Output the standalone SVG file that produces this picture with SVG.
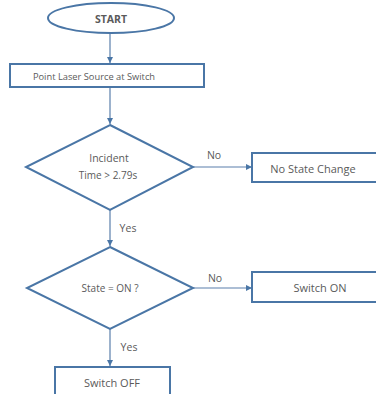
<svg xmlns="http://www.w3.org/2000/svg" width="376" height="394" viewBox="0 0 376 394">
<style>
.shape{fill:#ffffff;stroke:#4a76a6;stroke-width:2}
.conn{stroke:#5a7fab;stroke-width:1.2;fill:none}
text{font-family:"Open Sans","Liberation Sans",sans-serif;font-size:10.5px;fill:#5a5a5a;text-anchor:middle;dominant-baseline:central}
.b{font-weight:bold;font-size:10.5px}
.s{font-size:9.3px}
.l{font-size:11px}
</style>
<defs>
<marker id="ah" viewBox="0 0 10 10" refX="10" refY="5" markerWidth="6" markerHeight="6" orient="auto" markerUnits="userSpaceOnUse">
<path d="M0,0 L10,5 L0,10 z" fill="#4a76a6"/>
</marker>
</defs>
<rect width="376" height="394" fill="#ffffff"/>
<g id="connectors">
<line class="conn" x1="110" y1="33" x2="110" y2="63" marker-end="url(#ah)"/>
<line class="conn" x1="110" y1="88" x2="110" y2="124" marker-end="url(#ah)"/>
<line class="conn" x1="193" y1="167" x2="252" y2="167" marker-end="url(#ah)"/>
<line class="conn" x1="110" y1="210" x2="110" y2="246" marker-end="url(#ah)"/>
<line class="conn" x1="193" y1="288" x2="252" y2="288" marker-end="url(#ah)"/>
<line class="conn" x1="110" y1="329" x2="110" y2="366" marker-end="url(#ah)"/>
<text x="214" y="155">No</text>
<text x="128" y="228">Yes</text>
<text x="215" y="278">No</text>
<text x="129" y="347">Yes</text>
</g>
<g id="start">
<ellipse class="shape" cx="111" cy="18" rx="63" ry="15"/>
<text class="b" x="111" y="19">START</text>
</g>
<g id="point">
<rect class="shape" x="10" y="64" width="194" height="23"/>
<text class="s" x="94" y="76">Point Laser Source at Switch</text>
</g>
<g id="incident">
<polygon class="shape" points="110,125 193,167 110,210 26,167"/>
<text x="109" y="158">Incident</text>
<text x="108" y="175" style="font-size:10px">Time &gt; 2.79s</text>
</g>
<g id="nochange">
<rect class="shape" x="252" y="153" width="130" height="29"/>
<text class="l" x="313" y="168">No State Change</text>
</g>
<g id="state">
<polygon class="shape" points="110,247 193,288 110,329 27,288"/>
<text x="110" y="288" style="font-size:10px">State = ON ?</text>
</g>
<g id="switchon">
<rect class="shape" x="252" y="272" width="130" height="30"/>
<text class="l" x="320" y="287">Switch ON</text>
</g>
<g id="switchoff">
<rect class="shape" x="55" y="367" width="115" height="35"/>
<text class="l" x="112" y="382">Switch OFF</text>
</g>
</svg>
